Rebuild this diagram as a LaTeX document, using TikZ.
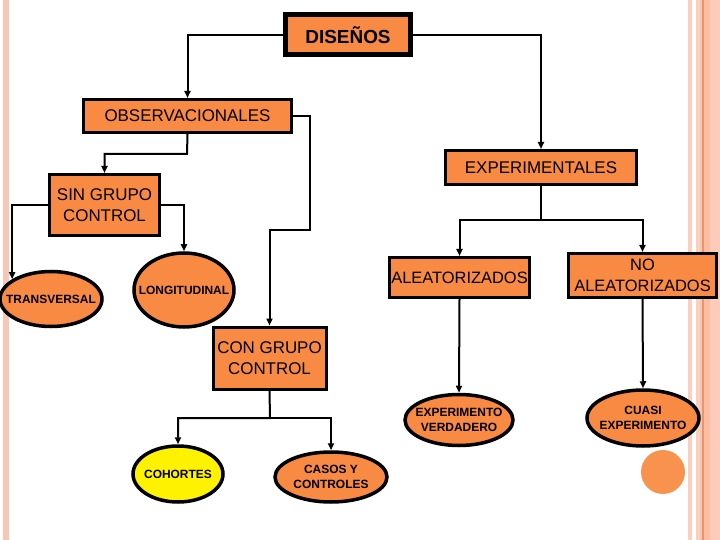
\documentclass[tikz,border=0pt]{standalone}
\usepackage{fontspec}
\setmainfont{Liberation Sans}
\usetikzlibrary{shapes.geometric,arrows.meta}
\definecolor{org}{RGB}{249,138,68}
\definecolor{dotorg}{RGB}{248,146,78}
\definecolor{stripeA}{RGB}{248,198,180}
\definecolor{stripeB}{RGB}{250,208,192}
\definecolor{stripeC}{RGB}{232,150,110}
\definecolor{stripeD}{RGB}{251,190,160}
\definecolor{stripeE}{RGB}{255,203,186}
\begin{document}
\begin{tikzpicture}[x=1bp,y=-1bp,
  box/.style={draw=black,line width=3bp,fill=org,inner sep=0pt,align=center,
    font=\fontsize{17}{21}\selectfont},
  oval/.style={ellipse,draw=black,line width=3.5bp,fill=org,inner xsep=-15bp,inner ysep=-5bp,align=center,
    font=\bfseries\fontsize{12}{14.5}\selectfont},
  conn/.style={line width=2bp,-{Triangle[length=7bp,width=6bp]}}]
\useasboundingbox (0,0) rectangle (720,540);
% background stripes
\fill[stripeA] (3,0) rectangle (9,540);
\fill[stripeB] (688,0) rectangle (692,540);
\fill[stripeB] (696,0) rectangle (700,540);
\fill[stripeA] (700,0) rectangle (702,540);
\fill[stripeC] (702,0) rectangle (703.5,540);
\fill[stripeD] (703.5,0) rectangle (710,540);
\fill[stripeE] (710,0) rectangle (720,540);
% nodes
\node[box,line width=5bp,minimum width=125bp,minimum height=40bp,font=\bfseries\fontsize{19}{21}\selectfont] (dis) at (348,35) {DISEÑOS};
\node[box,minimum width=208bp,minimum height=33bp] (obs) at (187.5,116) {OBSERVACIONALES};
\node[box,minimum width=191bp,minimum height=34bp] (exp) at (541,167.5) {EXPERIMENTALES};
\node[box,minimum width=110bp,minimum height=61bp] (sin) at (104.5,205) {SIN GRUPO\\CONTROL};
\node[oval,minimum width=102bp,minimum height=55bp] (trans) at (51,299) {TRANSVERSAL};
\node[oval,minimum width=100bp,minimum height=74bp] (long) at (184,290) {LONGITUDINAL};
\node[box,minimum width=140bp,minimum height=40bp,font=\fontsize{16.5}{21}\selectfont] (ale) at (459.5,277.5) {ALEATORIZADOS};
\node[box,minimum width=148bp,minimum height=44bp,font=\fontsize{16.5}{21}\selectfont] (noale) at (642.5,275.5) {NO\\ALEATORIZADOS};
\node[box,minimum width=113bp,minimum height=62bp] (con) at (269.5,358) {CON GRUPO\\CONTROL};
\node[oval,minimum width=108bp,minimum height=51bp] (ev) at (459,420) {EXPERIMENTO\\VERDADERO};
\node[oval,minimum width=112bp,minimum height=56bp] (cuasi) at (643,418) {CUASI\\EXPERIMENTO};
\node[oval,fill=yellow,minimum width=90bp,minimum height=56bp] (coh) at (178,474) {COHORTES};
\node[oval,minimum width=112bp,minimum height=50bp] (casos) at (331,477) {CASOS Y\\CONTROLES};
\node[circle,fill=dotorg,minimum size=44bp,inner sep=0pt] (dot) at (663,472) {};
% connectors
\coordinate (k1) at (310,230);
\coordinate (k2) at (541,220);
\coordinate (k3) at (270,418);
\coordinate (k4) at (187,154);
\draw[conn] (dis.west) -| (obs.north);
\draw[conn] (dis.east) -| (exp.north);
\draw[conn] (obs.south) -- (k4) -| (sin.north);
\draw[conn] (obs.east) -| (k1) -| (con.north);
\draw[conn] (sin.west) -| (trans.153);
\draw[conn] (sin.east) -| (long.north);
\draw[conn] (exp.south) -- (k2) -| (ale.north);
\draw[conn] (k2) -| (noale.north);
\draw[conn] (ale.south) -- (ev.north);
\draw[conn] (noale.south) -- (cuasi.north);
\draw[conn] (con.south) -- (k3) -| (coh.north);
\draw[conn] (k3) -| (casos.north);
\end{tikzpicture}
\end{document}
